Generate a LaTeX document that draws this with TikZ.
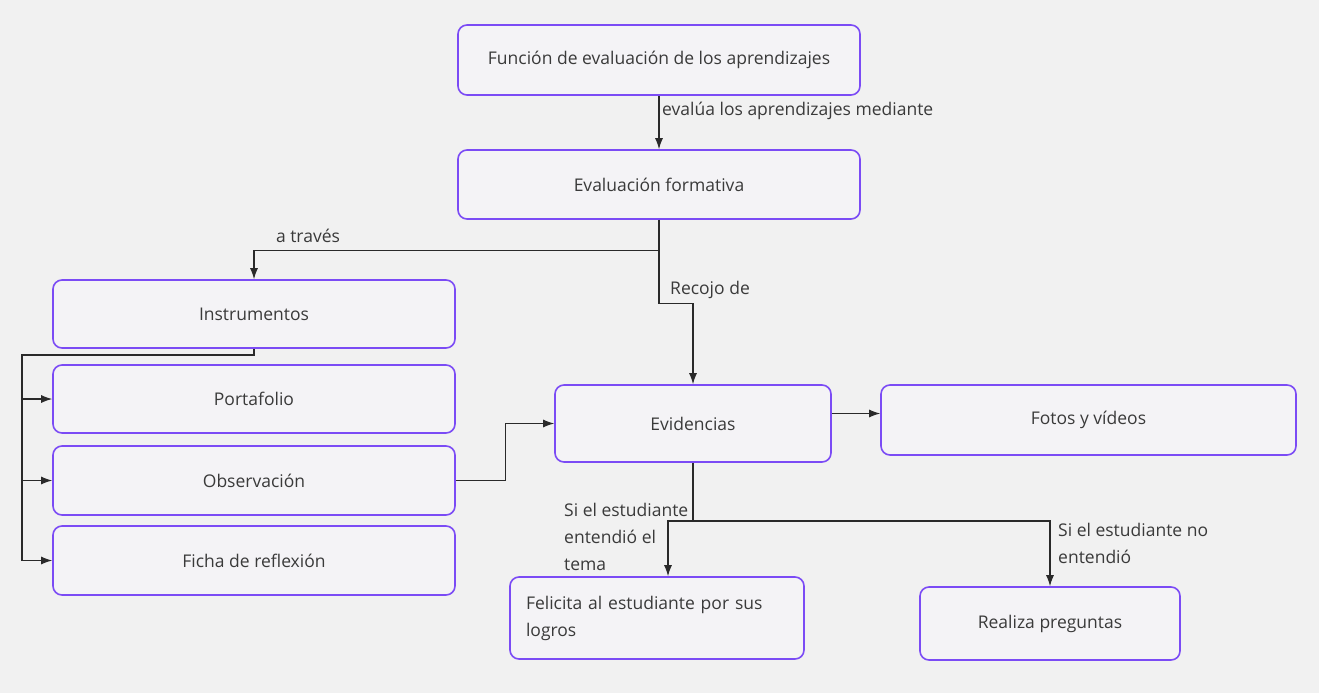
\documentclass[tikz,border=0pt]{standalone}
\usepackage{fontspec}
\setmainfont{Open Sans}
\usetikzlibrary{arrows.meta,positioning}
\definecolor{boxedge}{HTML}{7B4BF5}
\definecolor{boxfill}{HTML}{F4F3F6}
\definecolor{pagebg}{HTML}{F1F1F1}
\definecolor{txtcol}{HTML}{3A3A3A}
\definecolor{linecol}{HTML}{2A2A2A}
\tikzset{
  cbox/.style={draw=boxedge,line width=1.6pt,fill=boxfill,rounded corners=9pt,
    text=txtcol,font=\fontsize{17.5}{21}\selectfont,inner sep=0pt},
  conn/.style={linecol,line width=1.1pt},
  lbl/.style={text=txtcol,font=\fontsize{17.5}{27}\selectfont,inner sep=0pt,align=left}
}

\begin{document}
\begin{tikzpicture}[x=1pt,y=-1pt,>={Latex[length=11pt,width=8pt]}]
  \path[use as bounding box,fill=pagebg] (0,0) rectangle (1319,693);
  % boxes
  \node[cbox,minimum width=402,minimum height=70] (fun) at (659,60) {Función de evaluación de los aprendizajes};
  \node[cbox,minimum width=402,minimum height=69] (form) at (659,184.5) {Evaluación formativa};
  \node[cbox,minimum width=402,minimum height=68] (instr) at (254,314) {Instrumentos};
  \node[cbox,minimum width=402,minimum height=68] (port) at (254,399) {Portafolio};
  \node[cbox,minimum width=402,minimum height=69] (obs) at (254,480.5) {Observación};
  \node[cbox,minimum width=402,minimum height=69] (ficha) at (254,560.5) {Ficha de reflexión};
  \node[cbox,minimum width=276,minimum height=77] (evid) at (693,423.5) {Evidencias};
  \node[cbox,minimum width=415,minimum height=70] (fotos) at (1088.5,420) {Fotos y vídeos};
  \node[cbox,minimum width=294,minimum height=82,text width=262,align=left] (feli) at (657,618) {Felicita al estudiante por sus\\[6pt]logros};
  \node[cbox,minimum width=260,minimum height=73] (real) at (1050,623.5) {Realiza preguntas};

  % labels
  \node[lbl,anchor=west] (lmed) at (662,111) {evalúa los aprendizajes mediante};
  \node[lbl] (ltra) at (308,236) {a través};
  \node[lbl,anchor=west] (lrec) at (670,290) {Recojo de};
  \node[lbl,anchor=north west] (lsi) at (564,503) {Si el estudiante\\entendió el\\tema};
  \node[lbl,anchor=north west] (lno) at (1058,523) {Si el estudiante no\\entendió};

  % connectors
  \coordinate (bus) at (22,355);
  \coordinate (split) at (693,521);
  \draw[conn,->] (fun.south) -- (form.north);
  \draw[conn,->] (form.south) -- ++(0,31) -| (instr.north);
  \draw[conn,->] (form.south) -- ++(0,84) -| (evid.north);
  \draw[conn] (instr.south) |- (bus) -- (bus |- ficha.west);
  \foreach \n in {port,obs,ficha}
    \draw[conn,->] (bus |- \n.west) -- (\n.west);
  \draw[conn,->] (obs.east) -- ++(50,0) |- (evid.west);
  \draw[conn,->] ([yshift=10pt]evid.east) -- ([yshift=10pt]evid.east -| fotos.west);
  \draw[conn] (evid.south) -- (split);
  \draw[conn,->] (split) -| (real.north);
  \draw[conn,->] (split) -| ([xshift=11pt]feli.north);
\end{tikzpicture}
\end{document}
